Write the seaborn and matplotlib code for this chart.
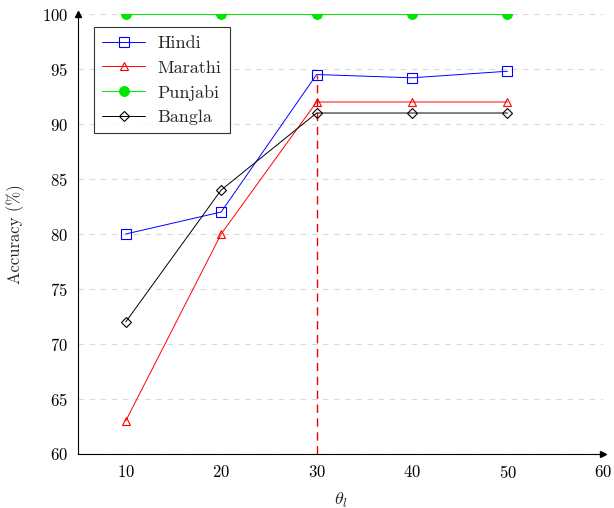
import matplotlib
matplotlib.use("Agg")
import matplotlib.pyplot as plt
import seaborn as sns
import pandas as pd

thresholds = [10, 20, 30, 40, 50]
hindi = [80, 82, 94.5, 94.2, 94.8]
marathi = [63, 80, 92, 92, 92]
punjabi = [100, 100, 100, 100, 100]
bangla = [72, 84, 91, 91, 91]
languages = ["Hindi", "Marathi", "Punjabi", "Bangla"]
x_ticks = [10, 20, 30, 40, 50, 60]
y_ticks = [60, 65, 70, 75, 80, 85, 90, 95, 100]
vline_x = 30
vline_top = 94.5

sns.set_style("white")
plt.rcParams["font.family"] = "serif"
plt.rcParams["font.serif"] = ["cmr10", "DejaVu Serif"]
plt.rcParams["mathtext.fontset"] = "cm"
plt.rcParams["axes.formatter.use_mathtext"] = True

df = pd.DataFrame({
    "theta": thresholds * 4,
    "acc": hindi + marathi + punjabi + bangla,
    "lang": sum([[l] * len(thresholds) for l in languages], []),
})

fig = plt.figure(figsize=(6.14, 5.08), dpi=100)
ax = fig.add_axes([0.127, 0.1063, 0.855, 0.8661])

colors = {"Hindi": "#0000ff", "Marathi": "#ff0000", "Punjabi": "#00e600", "Bangla": "#000000"}
markers = {"Hindi": "s", "Marathi": "^", "Punjabi": "o", "Bangla": "D"}
msizes = {"Hindi": 7, "Marathi": 6, "Punjabi": 7, "Bangla": 5}

for lang in languages:
    sub = df[df["lang"] == lang]
    filled = lang == "Punjabi"
    sns.lineplot(data=sub, x="theta", y="acc", ax=ax, color=colors[lang], lw=0.7,
                 marker=markers[lang], markersize=msizes[lang],
                 markerfacecolor=colors[lang] if filled else "none",
                 markeredgecolor=colors[lang], markeredgewidth=0.8,
                 label=lang, zorder=3)

ax.plot([vline_x, vline_x], [60, vline_top], color="#ee0000", lw=1.0,
        ls=(0, (6, 4)), zorder=2)

ax.set_xlim(5, 60)
ax.set_ylim(60, 100)
ax.set_xticks(x_ticks)
ax.set_yticks(y_ticks)
ax.yaxis.grid(True, color="#dadada", ls=(0, (5, 5)), lw=0.8)
ax.xaxis.grid(False)
for s in ["top", "right"]:
    ax.spines[s].set_visible(False)
for s in ["left", "bottom"]:
    ax.spines[s].set_color("black")
    ax.spines[s].set_linewidth(0.8)
ax.tick_params(axis="both", direction="inout", length=6, width=0.6, color="#b0b0b0",
               labelsize=12, labelcolor="black", pad=4)
ax.plot(1, 0, ">k", transform=ax.transAxes, clip_on=False, markersize=4)
ax.plot(0, 1, "^k", transform=ax.transAxes, clip_on=False, markersize=4)

ax.set_xlabel(r"$\theta_l$", fontsize=13, labelpad=7)
ax.set_ylabel("Accuracy (%)", fontsize=12, labelpad=12)

leg = ax.legend(loc="upper left", bbox_to_anchor=(0.03, 0.97), fontsize=13,
                frameon=True, fancybox=False, edgecolor="black", borderpad=0.45,
                handlelength=2.4, labelspacing=0.5, handletextpad=0.7,
                borderaxespad=0)
leg.get_frame().set_linewidth(0.8)

fig.savefig("out.png", dpi=100)
